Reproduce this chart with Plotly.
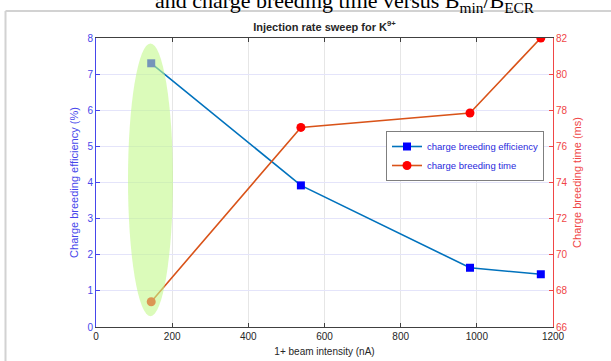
import plotly.graph_objects as go

# Data
beam_intensity = [145, 538, 982, 1168]
efficiency = [7.3, 3.92, 1.64, 1.46]
breeding_time = [67.4, 77.05, 77.85, 82.0]
x_ticks = [0, 200, 400, 600, 800, 1000, 1200]
y1_ticks = [0, 1, 2, 3, 4, 5, 6, 7, 8]
y2_ticks = [66, 68, 70, 72, 74, 76, 78, 80, 82]

W, H = 611, 361
L, R, T, B = 96, 58, 38, 34
PW, PH = W - L - R, H - T - B

def px(x):
    return (x - L) / PW

def py(y):
    return (H - B - y) / PH

BLUE_AX = "rgb(70,70,235)"
RED_AX = "rgb(240,70,70)"
FONT = "Liberation Sans, Arial, sans-serif"

fig = go.Figure()
fig.add_trace(go.Scatter(
    x=beam_intensity, y=efficiency, name="charge breeding efficiency",
    mode="lines+markers",
    line=dict(color="#0072BD", width=1.6),
    marker=dict(symbol="square", size=8, color="rgb(0,0,255)"),
    yaxis="y",
))
fig.add_trace(go.Scatter(
    x=beam_intensity, y=breeding_time, name="charge breeding time",
    mode="lines+markers",
    line=dict(color="#D95319", width=1.6),
    marker=dict(symbol="circle", size=9, color="rgb(255,0,0)"),
    yaxis="y2",
))

fig.update_layout(
    width=W, height=H,
    margin=dict(l=L, r=R, t=T, b=B, pad=0, autoexpand=False),
    paper_bgcolor="white", plot_bgcolor="white",
    font=dict(family=FONT, size=10, color="#262626"),
    showlegend=True,
    legend=dict(
        x=px(386), y=py(131), xanchor="left", yanchor="top",
        bgcolor="white", bordercolor="#7f7f7f", borderwidth=1,
        font=dict(size=9.5, color="rgb(40,40,220)"),
        tracegroupgap=0, itemwidth=30,
    ),
    title=dict(
        text="<b>Injection rate sweep for K<sup>9+</sup></b>",
        x=px((L + W - R) / 2), xanchor="center", xref="paper",
        y=1 - 27 / H, yanchor="middle",
        font=dict(size=11, color="#262626"),
    ),
    xaxis=dict(
        range=[0, 1200], tickvals=x_ticks, ticks="inside", ticklen=4,
        tickcolor="#404040", showline=True, linecolor="#404040", linewidth=1,
        mirror="ticks", showgrid=True, gridcolor="#e6e6e6", gridwidth=1,
        zeroline=False, tickfont=dict(size=10, color="#262626"),
        title=dict(text="1+ beam intensity (nA)", font=dict(size=10, color="#262626"), standoff=6),
    ),
    yaxis=dict(
        range=[0, 8], tickvals=y1_ticks, ticks="inside", ticklen=4,
        tickcolor=BLUE_AX, showline=True, linecolor=BLUE_AX, linewidth=1,
        showgrid=True, gridcolor="#e4e4fa", gridwidth=1, zeroline=False,
        tickfont=dict(size=10, color=BLUE_AX),
        title=dict(text="Charge breeding efficiency (%)", font=dict(size=11, color=BLUE_AX), standoff=6),
    ),
    yaxis2=dict(
        range=[66, 82], tickvals=y2_ticks, ticks="inside", ticklen=4,
        tickcolor=RED_AX, showline=True, linecolor=RED_AX, linewidth=1,
        showgrid=False, zeroline=False, overlaying="y", side="right",
        tickfont=dict(size=10, color=RED_AX),
        title=dict(text="Charge breeding time (ms)", font=dict(size=11, color=RED_AX), standoff=6),
    ),
)

# highlighted region (green ellipse)
fig.add_shape(
    type="circle", xref="x", yref="y", x0=84, x1=202, y0=0.3, y1=7.85,
    fillcolor="rgba(195,248,140,0.6)", line=dict(width=0), layer="above",
)

# document frame lines
fig.add_shape(type="line", xref="paper", yref="paper",
              x0=px(5.5), x1=px(611), y0=py(11), y1=py(11),
              line=dict(color="#d2d2d2", width=2))
fig.add_shape(type="line", xref="paper", yref="paper",
              x0=px(5.5), x1=px(5.5), y0=py(11), y1=py(361),
              line=dict(color="#d2d2d2", width=2))

# document caption, cut off at the top
fig.add_annotation(
    text="and charge breeding time versus B<sub>min</sub>/B<sub>ECR</sub>",
    xref="paper", yref="paper", x=px(345), y=py(2), xanchor="center", yanchor="middle",
    showarrow=False, font=dict(family="Liberation Serif, Times New Roman, serif", size=22, color="black"),
)

fig.write_html("out.html", config={"displayModeBar": False},
               post_script="document.body.style.margin='0px';")
